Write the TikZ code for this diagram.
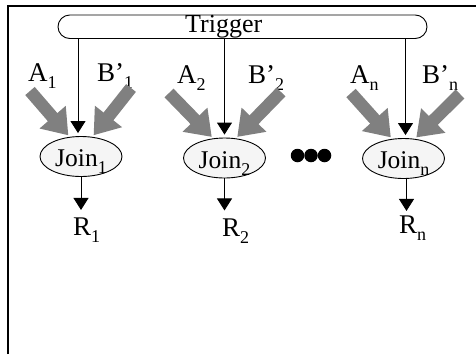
\documentclass[tikz,border=0pt]{standalone}
\usepackage{fontspec}
\setmainfont{Liberation Serif}
\usetikzlibrary{arrows.meta,shapes.geometric,shapes.misc,calc}
\newcommand\lsb[1]{\raisebox{-7pt}{\fontsize{18}{18}\selectfont #1}}
\begin{document}
\begin{tikzpicture}[x=1pt,y=-1pt,
  lbl/.style={anchor=base west,inner sep=0,font=\fontsize{27}{27}\selectfont},
  joinnode/.style={ellipse,draw,line width=0.9pt,fill=gray!8,minimum width=82pt,minimum height=40pt,inner sep=0,text height=20pt,text depth=0pt,font=\fontsize{25.5}{25.5}\selectfont},
  trigbox/.style={rounded rectangle,draw,line width=0.9pt,minimum width=369pt,minimum height=23.5pt,inner sep=0},
  tarrow/.style={line width=0.9pt,-{Triangle[length=12pt,width=15pt]}},
  garrow/.style={line width=12.5pt,draw=gray,-{Triangle[length=24pt,width=33pt]},shorten >=2pt},
  dotnode/.style={circle,fill=black,inner sep=0,minimum size=13.5pt},
  framestyle/.style={line width=2.2pt}]
\useasboundingbox (0,0) rectangle (476,354);
% frame
\draw[framestyle] (8,354) -- (8,6) -- (476,6);
% trigger
\node[trigbox] (trig) at (242.5,26.75) {};
\node[lbl,font=\fontsize{26}{26}\selectfont] (trigtxt) at (185,32.5) {Trigger};
% joins
\node[joinnode] (j1) at (81,156.5) {Join\lsb{1}};
\node[joinnode] (j2) at (224.5,158) {Join\lsb{2}};
\node[joinnode] (jn) at (403.5,158.5) {Join\lsb{n}};
% dots
\node[dotnode] (d1) at (297.5,155.5) {};
\node[dotnode] (d2) at (311,155.5) {};
\node[dotnode] (d3) at (324.5,155.5) {};
% labels
\node[lbl] (la1) at (28,81) {A\lsb{1}};
\node[lbl] (lb1) at (97,81) {B’\lsb{1}};
\node[lbl] (la2) at (177,83) {A\lsb{2}};
\node[lbl] (lb2) at (248,83) {B’\lsb{2}};
\node[lbl] (lan) at (350,83) {A\lsb{n}};
\node[lbl] (lbn) at (422,83) {B’\lsb{n}};
\node[lbl] (r1) at (73,235) {R\lsb{1}};
\node[lbl] (r2) at (222,236) {R\lsb{2}};
\node[lbl] (rn) at (399,233) {R\lsb{n}};
% trigger arrows
\draw[tarrow] ($(trig.south -| j1.north)+(-3,0)$) -- ($(j1.north)+(-3,-3)$);
\draw[tarrow] (trig.south -| j2.north) -- ($(j2.north)+(0,-3)$);
\draw[tarrow] ($(trig.south -| jn.north)+(2,0)$) -- ($(jn.north)+(2,-3)$);
% result arrows
\draw[tarrow] (j1.south) -- ($(j1.south)+(0,33)$);
\draw[tarrow] (j2.south) -- ($(j2.south)+(0,32)$);
\draw[tarrow] ($(jn.south)+(3,0)$) -- ($(jn.south)+(3,32)$);
% gray input arrows
\coordinate (a1) at (30,91);
\coordinate (b1) at (131,88);
\coordinate (a2) at (169,93);
\coordinate (b2) at (281,92);
\coordinate (an) at (351,93);
\coordinate (bn) at (460,94);
\draw[garrow] (a1) -- (j1.120);
\draw[garrow] (b1) -- (j1.60);
\draw[garrow] (a2) -- (j2.120);
\draw[garrow] (b2) -- (j2.60);
\draw[garrow] (an) -- (jn.120);
\draw[garrow] (bn) -- (jn.60);
\end{tikzpicture}
\end{document}
